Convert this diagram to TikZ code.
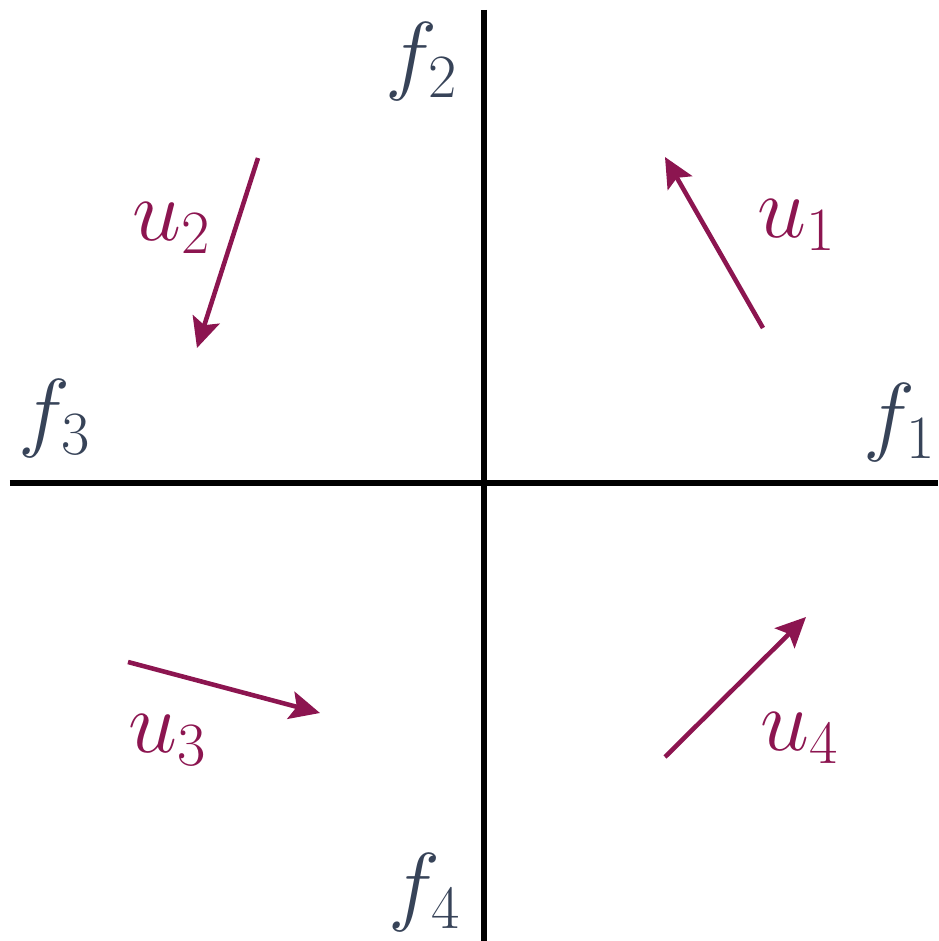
\RequirePackage{fix-cm}
\documentclass[tikz,border=0pt]{standalone}
\usepackage{amsmath}
\usetikzlibrary{arrows.meta}

\definecolor{vecpurple}{HTML}{8C1550}
\definecolor{axislab}{HTML}{374358}

\begin{document}
\begin{tikzpicture}[
  font=\fontsize{25}{30}\selectfont,
  axis/.style={line width=1.5pt, black},
  vec/.style={-{Stealth[length=3mm, width=2.8mm, inset=0.6mm]}, line width=1.3pt, vecpurple},
  flab/.style={text=axislab, inner sep=0pt},
  ulab/.style={text=vecpurple, inner sep=0pt},
]
\useasboundingbox (-4.84,-4.58) rectangle (4.54,4.83);

% ---------- axes ----------
\coordinate (W) at (-4.74,0);
\coordinate (E) at (4.54,0);
\coordinate (N) at (0,4.73);
\coordinate (S) at (0,-4.58);
\draw[axis] (W) -- (E);
\draw[axis] (N) -- (S);

% ---------- axis labels ----------
\node[flab] (f1) at (4.16,0.60)   {$f_1$};
\node[flab] (f2) at (-0.62,4.21)  {$f_2$};
\node[flab] (f3) at (-4.29,0.64)  {$f_3$};
\node[flab] (f4) at (-0.59,-4.10) {$f_4$};

% ---------- vectors ----------
\coordinate (u1s) at (2.79,1.55);   \coordinate (u1e) at (1.81,3.26);
\coordinate (u2s) at (-2.26,3.25);  \coordinate (u2e) at (-2.87,1.35);
\coordinate (u3s) at (-3.56,-1.79); \coordinate (u3e) at (-1.64,-2.30);
\coordinate (u4s) at (1.81,-2.74);  \coordinate (u4e) at (3.22,-1.34);
\draw[vec] (u1s) -- (u1e);
\draw[vec] (u2s) -- (u2e);
\draw[vec] (u3s) -- (u3e);
\draw[vec] (u4s) -- (u4e);

\node[ulab] (u1) at (3.13,2.58)   {$u_1$};
\node[ulab] (u2) at (-3.12,2.55)  {$u_2$};
\node[ulab] (u3) at (-3.16,-2.57) {$u_3$};
\node[ulab] (u4) at (3.16,-2.55)  {$u_4$};
\end{tikzpicture}
\end{document}
